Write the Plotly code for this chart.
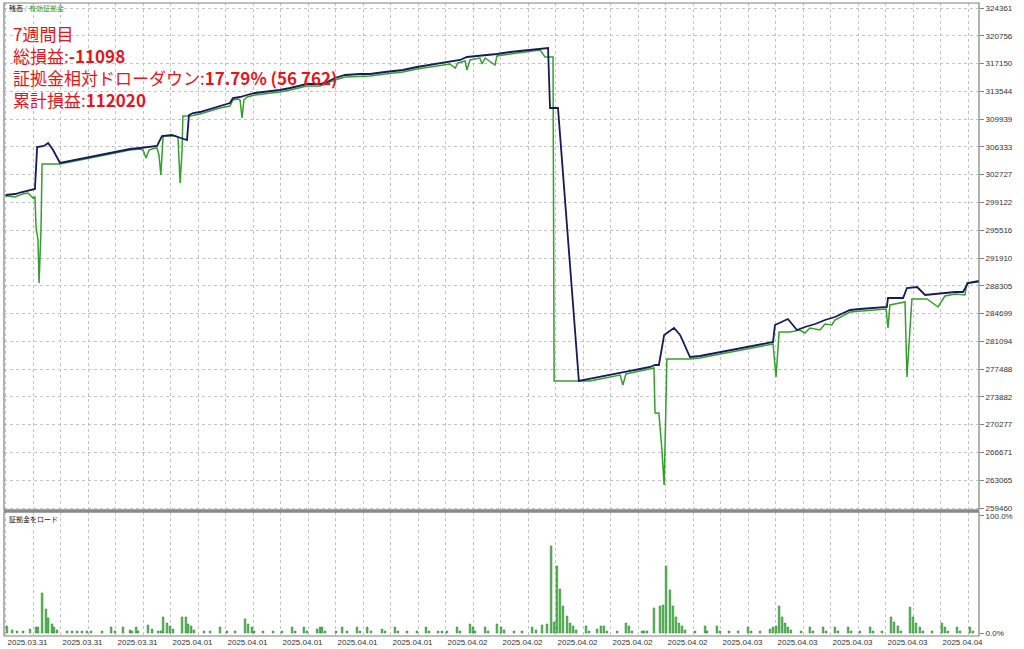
import plotly.graph_objects as go
from plotly.subplots import make_subplots

# ---------------- data ----------------
# x = deal/time index (grid every 10 steps), y = account value
balance_x = [0, 3.5, 6.0, 8.9, 10.7, 11.5, 14.0, 15.5, 17.3, 19.8, 23.5, 27.1, 30.7, 34.4, 38.0, 41.6,
             45.3, 48.9, 52.5, 55.1, 56.9, 60.5, 62.7, 65.3, 66.0, 66.7, 68.2, 70.7, 73.3, 75.5, 78.0,
             81.6, 82.7, 85.3, 87.8, 90.7, 93.6, 96.9, 99.8, 103.5, 107.1, 109.6, 114.4, 116.2, 119.8,
             123.5, 128.9, 132.5, 138.0, 144.5, 149.6, 154.4, 161.6, 165.3, 167.8, 172.5, 178.7, 183.5,
             189.6, 196.2, 197.3, 198.0, 200.9, 208.5, 212.5, 216.2, 219.8, 223.5, 227.1, 230.7, 234.4,
             236.2, 237.6, 239.5, 243.1, 245.3, 248.9, 252.5, 256.2, 259.8, 263.5, 267.1, 270.7, 274.4,
             279.1, 279.8, 281.6, 284.5, 287.8, 290.7, 294.4, 298.0, 301.6, 307.1, 310.7, 314.4, 320.5,
             320.9, 326.4, 327.8, 331.5, 334.4, 338.0, 341.6, 345.3, 348.2, 350.0, 354.0]
balance_y = [300088, 300218, 300478, 300737, 300867, 306319, 306449, 306838, 305929, 304242, 304502,
             304761, 305021, 305280, 305540, 305800, 306059, 306189, 306319, 306449, 307747, 307876,
             307617, 307357, 307227, 310472, 310732, 310862, 311121, 311381, 311641, 312030, 312679,
             312809, 313068, 313328, 313458, 313588, 313717, 313977, 314237, 314496, 314496, 314626,
             315275, 315664, 315794, 315794, 316054, 316313, 316703, 316962, 317352, 317611, 318001,
             318131, 318390, 318650, 318909, 319169, 319169, 311381, 311381, 275946, 276205, 276465,
             276724, 276984, 277244, 277503, 277763, 278022, 278022, 281916, 282825, 281916, 279061,
             279191, 279450, 279710, 279969, 280229, 280489, 280748, 281008, 283214, 283474, 283993,
             282565, 282955, 283344, 283863, 284253, 285161, 285291, 285421, 285551, 286719, 286719,
             288017, 288147, 287108, 287238, 287368, 287498, 287498, 288666, 288926]

equity_x = [0, 3.5, 6.0, 8.2, 10.0, 10.7, 11.1, 11.8, 12.2, 12.9, 13.3, 19.8, 23.5, 27.1, 30.7, 34.4,
            38.0, 41.6, 45.3, 48.9, 50.0, 51.1, 52.2, 54.4, 55.1, 55.8, 56.5, 57.3, 61.6, 62.7, 63.1,
            63.5, 64.2, 64.5, 67.1, 70.7, 75.5, 78.0, 81.6, 82.7, 84.5, 85.3, 86.0, 86.7, 87.8, 90.7,
            93.6, 96.9, 99.8, 103.5, 107.1, 109.6, 114.4, 119.8, 123.5, 128.9, 132.5, 138.0, 144.5,
            149.6, 154.4, 161.6, 163.5, 164.5, 167.1, 167.8, 168.9, 172.5, 173.3, 174.4, 178.0, 178.7,
            183.5, 189.6, 194.4, 196.2, 199.1, 199.5, 212.5, 216.2, 219.8, 223.5, 224.5, 225.6, 230.7,
            234.4, 235.8, 236.2, 237.6, 238.7, 239.5, 240.2, 240.5, 248.9, 252.5, 256.2, 259.8, 263.5,
            267.1, 270.7, 274.4, 279.1, 280.2, 281.3, 285.3, 288.9, 290.7, 292.5, 296.2, 298.0, 300.5,
            301.6, 307.1, 314.4, 320.2, 320.9, 321.6, 327.1, 327.8, 329.6, 335.1, 339.1, 341.6, 345.3,
            348.9, 349.6, 354.0]
equity_y = [299959, 299829, 300218, 300348, 299699, 299829, 295935, 294247, 288666, 295545, 304112,
            304112, 304372, 304631, 304891, 305151, 305410, 305670, 305929, 306059, 305929, 304891,
            305929, 306189, 306189, 305280, 302684, 307747, 307747, 307617, 304631, 301646, 305929,
            310343, 310343, 310602, 311121, 311381, 311641, 312419, 312549, 312419, 310083, 312419,
            312809, 313068, 313198, 313328, 313458, 313717, 313977, 314237, 314237, 315015, 315405,
            315535, 315535, 315794, 316054, 316443, 316703, 317092, 316573, 317222, 317482, 316313,
            317611, 317871, 317092, 317871, 316962, 318131, 318390, 318650, 318909, 318001, 318001,
            275946, 275946, 276205, 276465, 276724, 275426, 276854, 277244, 277503, 277633, 271792,
            271792, 266989, 262446, 273479, 278801, 278801, 278931, 279191, 279450, 279710, 279969,
            280229, 280489, 280748, 276465, 282306, 282306, 282565, 282176, 282825, 282565, 283344,
            283214, 283863, 284902, 285161, 285291, 282825, 285810, 286200, 276465, 286589, 286589,
            285551, 286979, 287238, 287108, 288666, 288796]

load_x = [0.5, 2.4, 4.2, 6.4, 8.9, 11.1, 11.8, 13.3, 14.7, 15.5, 16.9, 17.6, 18.7, 22.4, 24.2, 26.0,
          27.8, 29.6, 31.1, 35.1, 38.4, 39.8, 42.7, 45.3, 46.0, 47.5, 48.2, 51.8, 53.3, 55.5, 56.5,
          57.3, 58.7, 59.8, 60.9, 64.2, 65.6, 66.4, 67.5, 68.5, 72.2, 74.4, 78.0, 80.5, 83.5, 87.1,
          88.2, 89.6, 90.4, 93.6, 97.3, 100.5, 104.2, 105.3, 108.5, 109.6, 113.3, 114.4, 115.1, 116.2,
          120.2, 122.4, 124.2, 127.8, 128.9, 131.5, 132.9, 136.9, 138.0, 141.6, 142.7, 146.0, 149.6,
          152.9, 154.0, 157.3, 158.7, 160.5, 164.2, 165.3, 168.9, 170.0, 170.7, 174.4, 175.5,
          178.7, 180.2, 181.3, 184.9, 187.8, 191.5, 192.9, 195.1, 196.9, 198.4, 199.5, 200.5, 201.6,
          202.7, 204.2, 205.3, 206.4, 207.5, 211.1, 212.2, 215.1, 216.5, 217.6, 218.7, 222.4, 225.6,
          226.7, 227.8, 231.5, 232.2, 233.3, 235.8, 238.0, 239.1, 240.2, 241.6, 242.7, 243.8, 244.9,
          246.0, 247.1, 250.7, 254.4, 255.1, 258.7, 259.8, 263.1, 266.4, 270.0, 271.1, 274.4, 278.0,
          279.1, 280.2, 281.3, 282.4, 283.5, 284.5, 285.6, 289.3, 292.5, 293.6, 297.3, 298.4, 301.6,
          302.7, 306.4, 307.5, 310.7, 314.4, 315.5, 318.7, 322.0, 323.1, 324.5, 325.6, 328.9, 330.0,
          331.1, 332.5, 333.6, 336.9, 340.5, 341.6, 342.7, 346.0, 347.1, 350.7, 351.8]
load_pct = [6.0, 2.6, 1.7, 1.7, 3.4, 5.1, 5.1, 34.2, 20.5, 12.8, 7.7, 5.1, 2.6, 1.7, 1.7, 1.7,
            1.7, 1.7, 1.7, 1.7, 5.1, 1.7, 5.1, 2.6, 1.7, 5.1, 1.7, 6.8, 3.4, 1.7, 1.7,
            13.7, 8.5, 6.0, 3.4, 13.7, 13.7, 7.7, 6.0, 2.6, 1.7, 1.7, 5.1, 1.7, 1.7, 12.0,
            7.7, 5.1, 1.7, 1.7, 1.7, 1.7, 5.1, 1.7, 5.1, 1.7, 3.4, 5.1, 5.1, 1.7,
            1.7, 5.1, 1.7, 5.1, 1.7, 5.1, 1.7, 3.4, 1.7, 5.1, 1.7, 1.7, 1.7,
            5.1, 1.7, 1.7, 1.7, 1.7, 5.1, 1.7, 7.7, 5.1, 1.7, 5.1, 1.7,
            7.7, 5.1, 2.6, 1.7, 1.7, 5.1, 2.6, 6.8, 7.7, 74.4, 9.4, 57.3, 37.6,
            23.1, 14.5, 8.5, 6.0, 2.6, 6.0, 1.7, 3.4, 6.0, 6.0, 1.7, 1.7, 8.5,
            6.0, 1.7, 1.7, 1.7, 1.7, 21.4, 23.1, 23.9, 57.3, 36.8, 23.1, 13.7, 8.5,
            6.0, 2.6, 1.7, 6.0, 1.7, 6.0, 1.7, 1.7, 1.7, 5.1, 1.7, 1.7, 3.4,
            5.1, 6.0, 23.1, 13.7, 8.5, 5.1, 2.6, 1.7, 5.1, 1.7, 5.1, 1.7, 5.1,
            1.7, 5.1, 1.7, 1.7, 5.1, 1.7, 1.7, 13.7, 9.4, 6.0, 1.7, 22.2, 13.7,
            8.5, 5.1, 1.7, 1.7, 8.5, 5.1, 1.7, 5.1, 1.7, 5.1, 1.7]

date_labels = ["2025.03.31"] * 3 + ["2025.04.01"] * 5 + ["2025.04.02"] * 5 + ["2025.04.03"] * 4 + ["2025.04.04"]
date_pos = [8 + 20 * i for i in range(len(date_labels))]

y_ticks = [324361, 320756, 317150, 313544, 309939, 306333, 302727, 299122, 295516, 291910,
           288305, 284699, 281094, 277488, 273882, 270277, 266671, 263065, 259460]

overlay_lines = ["7週間目", "総損益:<b>-11098</b>",
                 "証拠金相対ドローダウン:<b>17.79% (56 762)</b>", "累計損益:<b>112020</b>"]

# ---------------- figure ----------------
GRID = "#c4c4c4"
FRAME = "#808080"
BLUE = "#161a5c"
GREEN = "#34a02c"

main_dom = [(636 - 510) / 633, 1.0]
load_dom = [0.0, (636 - 512) / 633]

fig = make_subplots(rows=2, cols=1, shared_xaxes=False)

fig.add_trace(go.Scatter(x=equity_x, y=equity_y, mode="lines",
                         line=dict(color=GREEN, width=1.5), hoverinfo="skip"), row=1, col=1)
fig.add_trace(go.Scatter(x=balance_x, y=balance_y, mode="lines",
                         line=dict(color=BLUE, width=1.8), hoverinfo="skip"), row=1, col=1)
fig.add_trace(go.Bar(x=load_x, y=load_pct, width=0.62,
                     marker=dict(color="#4cc04c", line=dict(color="#2a7a2a", width=0.5)),
                     hoverinfo="skip"), row=2, col=1)

xr = [-0.55, 354.0]
axfont = dict(family="Liberation Sans, Arial, sans-serif", size=8, color="#333333")

fig.update_layout(
    width=1024, height=649,
    margin=dict(l=4, r=45, t=3, b=13),
    paper_bgcolor="white", plot_bgcolor="white",
    showlegend=False, bargap=0,
    xaxis=dict(domain=[0, 1], range=xr, anchor="y", tickmode="linear", tick0=0, dtick=10,
               showticklabels=False, ticks="", showgrid=True, gridcolor=GRID, griddash="3px,3px",
               gridwidth=1, zeroline=False, showline=False),
    yaxis=dict(domain=main_dom, range=[259201, 325010], side="right", tickmode="array",
               tickvals=y_ticks, ticktext=[str(v) for v in y_ticks], ticks="outside", ticklen=4,
               tickcolor=FRAME, tickfont=axfont, showgrid=True, gridcolor=GRID, griddash="3px,3px",
               zeroline=False, showline=False),
    xaxis2=dict(domain=[0, 1], range=xr, anchor="y2", tickmode="array", tickvals=date_pos,
                ticktext=date_labels, ticks="", tickfont=axfont, showgrid=False, zeroline=False,
                showline=False, ticklabelstandoff=0,
                minor=dict(tickmode="linear", tick0=0, dtick=10, showgrid=True, gridcolor=GRID,
                           griddash="3px,3px", ticks="")),
    yaxis2=dict(domain=load_dom, range=[-2.56, 103.4], side="right", tickmode="array",
                tickvals=[0, 100], ticktext=["0.0%", "100.0%"], ticks="outside", ticklen=4,
                tickcolor=FRAME, tickfont=axfont, showgrid=False, zeroline=False, showline=False),
)

# frames
fig.add_shape(type="rect", xref="paper", yref="paper", x0=0, x1=1, y0=main_dom[0], y1=1,
              line=dict(color=FRAME, width=1.2))
fig.add_shape(type="rect", xref="paper", yref="paper", x0=0, x1=1, y0=0, y1=load_dom[1],
              line=dict(color=FRAME, width=1.2))
fig.add_shape(type="line", xref="paper", yref="paper", x0=0, x1=1.0,
              y0=(636 - 511) / 633, y1=(636 - 511) / 633, line=dict(color="#8a8a8a", width=3))


def px_x(p):
    return (p - 4) / 975


def px_y(p):
    return (636 - p) / 633


# small legend titles
fig.add_annotation(xref="paper", yref="paper", x=px_x(7), y=px_y(8), xanchor="left", yanchor="middle",
                   showarrow=False, align="left",
                   text="<span style='color:#000'>残高</span><span style='color:#777'> / </span>"
                        "<span style='color:#2a9a2a'>有効証拠金</span>",
                   font=dict(family="Noto Sans CJK JP", size=7))
fig.add_annotation(xref="paper", yref="paper", x=px_x(7), y=px_y(519), xanchor="left", yanchor="middle",
                   showarrow=False, text="証拠金をロード",
                   font=dict(family="Noto Sans CJK JP", size=7, color="#111"))

# red overlay text (one block, four lines)
RED = "#e8141c"
fig.add_annotation(xref="paper", yref="paper", x=px_x(11), y=px_y(19), xanchor="left",
                   yanchor="top", showarrow=False, align="left",
                   text="<br>".join(overlay_lines),
                   font=dict(family="Noto Sans CJK JP", size=17, color=RED))

fig.write_html("out.html", config={"displayModeBar": False, "staticPlot": True},
               post_script="document.body.style.margin='0';document.body.style.overflow='hidden';")
